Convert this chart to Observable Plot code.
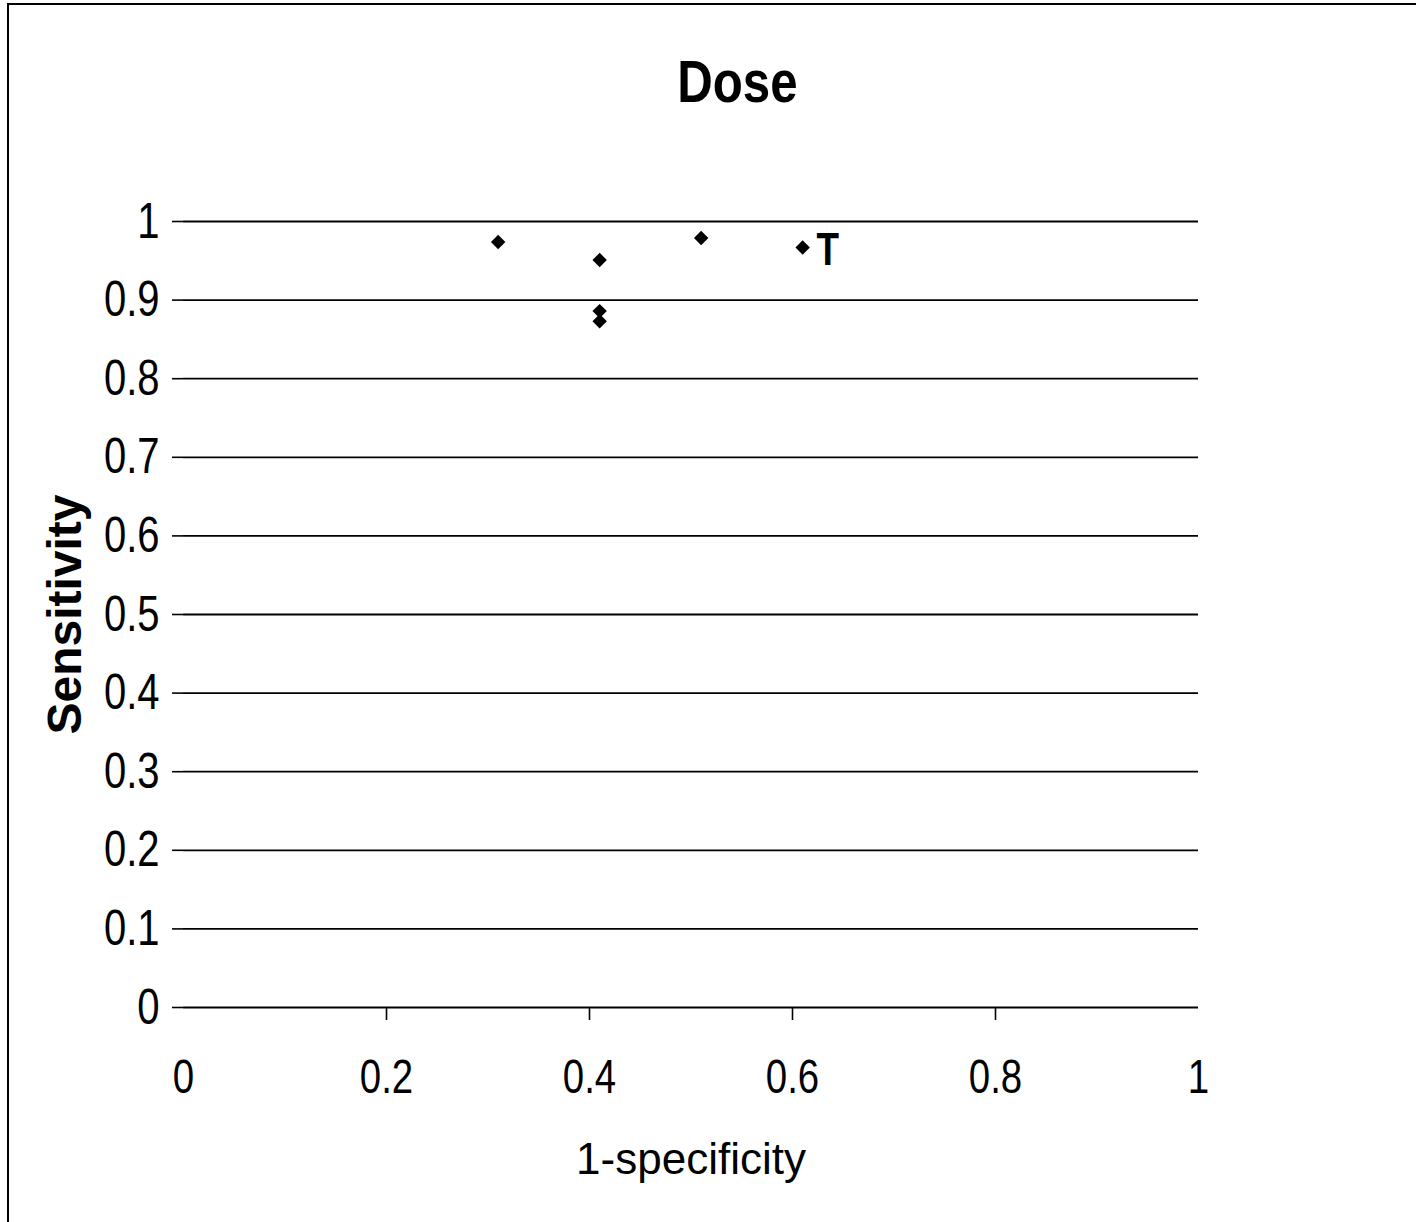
<!DOCTYPE html>
<html>
<head>
<meta charset="utf-8">
<script src="https://cdn.jsdelivr.net/npm/d3@7"></script>
<script src="https://cdn.jsdelivr.net/npm/@observablehq/plot@0.6"></script>
<style>
  html, body { margin: 0; padding: 0; background: #fff; }
  #wrap { position: relative; width: 1416px; height: 1222px; overflow: hidden; background: #fff; }
  #frame { position: absolute; left: 7px; top: 3px; width: 1500px; height: 1300px; border-left: 2px solid #000; border-top: 2px solid #000; }
  #title { position: absolute; left: 0; top: 52px; width: 1474px; text-align: center; font-family: "Liberation Sans", Arial, sans-serif; font-weight: bold; font-size: 60px; line-height: 60px; color: #000; }
  #title span { display: inline-block; transform: scaleX(0.82); transform-origin: center; }
  #chart { position: absolute; left: 0; top: 150px; }
</style>
</head>
<body>
<div id="wrap">
  <div id="frame"></div>
  <div id="title"><span>Dose</span></div>
  <div id="chart"></div>
</div>
<script>
// Data
const fpr  = [0.31, 0.41, 0.41, 0.41, 0.51, 0.61];        // 1-specificity
const sens = [0.974, 0.951, 0.886, 0.873, 0.979, 0.967];   // Sensitivity
const pointLabels = ["", "", "", "", "", "T"];
const xTickValues = [0, 0.2, 0.4, 0.6, 0.8, 1];
const xTickMarks = [0.2, 0.4, 0.6, 0.8];
const yTickValues = [0, 0.1, 0.2, 0.3, 0.4, 0.5, 0.6, 0.7, 0.8, 0.9, 1];
const xLabel = "1-specificity";
const yLabel = "Sensitivity";

const points = fpr.map((x, i) => ({x, y: sens[i], label: pointLabels[i]}));
const regular = '"Liberation Sans", Arial, sans-serif';

const chart = Plot.plot({
  width: 1416,
  height: 1072,
  marginTop: 71,
  marginBottom: 215,
  marginLeft: 183,
  marginRight: 218,
  x: {domain: [0, 1]},
  y: {domain: [0, 1]},
  style: {background: "transparent", color: "#000", fontFamily: regular},
  marks: [
    Plot.ruleY(yTickValues, {stroke: "#000", strokeWidth: 1.8}),
    Plot.axisY({ticks: yTickValues, tickSize: 11, tickPadding: 13, tickFormat: d => String(d),
      label: null, fontSize: 50, stroke: "#000", strokeWidth: 1.6}),
    Plot.axisX({ticks: xTickMarks, tickSize: 13, tickFormat: () => "", label: null, strokeWidth: 1.6}),
    Plot.axisX({ticks: xTickValues, tickSize: 0, tickPadding: 51, tickFormat: d => String(d),
      label: null, fontSize: 48}),
    Plot.dot(points, {x: "x", y: "y", symbol: "diamond2", r: 6.5, fill: "#000", stroke: "none"}),
    Plot.text(points.filter(d => d.label), {x: "x", y: "y", text: "label", dx: 25, dy: 3,
      fontSize: 46, fontWeight: "bold", fill: "#000"}),
    Plot.text([yLabel], {frameAnchor: "left", dx: -118, rotate: -90, text: d => d, textAnchor: "middle",
      fontSize: 48, fontWeight: "bold", fill: "#000"}),
    Plot.text([xLabel], {frameAnchor: "bottom", dy: 166, text: d => d,
      fontSize: 44, fill: "#000"})
  ]
});
document.getElementById("chart").appendChild(chart);

// Condense tick labels and the point label to match the reference's narrow lettering
chart.querySelectorAll("text").forEach(t => {
  const s = t.textContent;
  if (s === xLabel || s === yLabel || s === "") return;
  const len = t.getComputedTextLength();
  if (len > 0) {
    t.setAttribute("textLength", (len * 0.8).toFixed(1));
    t.setAttribute("lengthAdjust", "spacingAndGlyphs");
  }
});
</script>
</body>
</html>
